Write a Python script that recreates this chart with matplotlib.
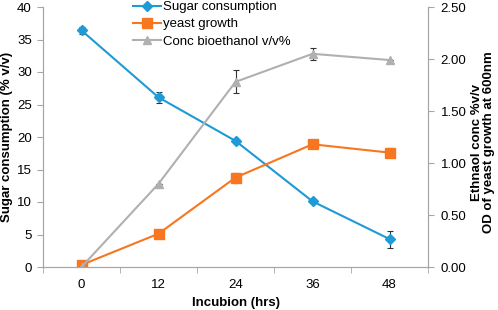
import matplotlib.pyplot as plt
from matplotlib.lines import Line2D
import numpy as np

plt.rcParams['font.family'] = ['Liberation Sans', 'DejaVu Sans']

hours = ['0', '12', '24', '36', '48']
sugar = [36.4, 26.1, 19.4, 10.1, 4.3]
sugar_err = [0.6, 0.8, 0.3, 0.3, 1.3]
yeast = [0.02, 0.32, 0.86, 1.18, 1.10]
yeast_err = [0.0, 0.0, 0.04, 0.02, 0.04]
ethanol = [0.0, 0.80, 1.78, 2.05, 1.99]
ethanol_err = [0.0, 0.0, 0.11, 0.06, 0.0]

blue = '#1e9ad6'
orange = '#f7761f'
gray = '#b0b0b0'
axcol = '#a6a6a6'
fs = 9.5

fig = plt.figure(figsize=(4.98, 3.10), dpi=100)
ax = fig.add_axes([43 / 498, (310 - 267) / 310, (428 - 43) / 498, 260 / 310])
ax2 = ax.twinx()
x = np.arange(len(hours))

ebkw = dict(ecolor='#333333', elinewidth=0.8, capsize=2.5, capthick=0.8)
ax.errorbar(x, sugar, yerr=sugar_err, color=blue, marker='D', ms=5, lw=1.5, zorder=3, **ebkw)
ax2.errorbar(x, yeast, yerr=yeast_err, color=orange, marker='s', ms=7, lw=1.5, **ebkw)
ax2.errorbar(x, ethanol, yerr=ethanol_err, color=gray, marker='^', ms=6, lw=1.5, **ebkw)

ax.set_xlim(-0.5, 4.5)
ax.set_ylim(0, 40)
ax2.set_ylim(0, 2.5)
ax.set_xticks(x)
ax.set_xticklabels(hours)
ax.set_xticks(np.arange(-0.5, 5, 1), minor=True)
ax.tick_params(axis='x', which='major', length=0, labelsize=fs, pad=9)
ax.tick_params(axis='x', which='minor', length=4, color=axcol)
ax.set_yticks(np.arange(0, 41, 5))
ax.tick_params(axis='y', length=4, color=axcol, labelsize=fs, pad=4)
ax2.set_yticks(np.arange(0, 2.51, 0.5))
ax2.set_yticklabels(['%.2f' % v for v in np.arange(0, 2.51, 0.5)])
ax2.tick_params(axis='y', length=4, color=axcol, labelsize=fs, pad=5)

for a in (ax, ax2):
    a.spines['top'].set_visible(False)
    for s in ('left', 'right', 'bottom'):
        a.spines[s].set_color(axcol)

ax.set_xlabel('Incubion (hrs)', fontweight='bold', fontsize=fs, labelpad=4)
ax.set_ylabel('Sugar consumption (% v/v)', fontweight='bold', fontsize=fs, labelpad=3)
ax2.set_ylabel('Ethnaol conc %v/v\nOD of yeast growth at 600nm', fontweight='bold',
               fontsize=fs, labelpad=3, linespacing=1.1)
ax2.yaxis.label.set_y(0.48)

handles = [Line2D([], [], color=blue, marker='D', ms=5, lw=1.5),
           Line2D([], [], color=orange, marker='s', ms=7, lw=1.5),
           Line2D([], [], color=gray, marker='^', ms=6, lw=1.5)]
fig.legend(handles, ['Sugar consumption', 'yeast growth', 'Conc bioethanol v/v%'],
           loc='upper left', bbox_to_anchor=(133 / 498, 1 - 1 / 310), frameon=False,
           fontsize=fs, handlelength=2.1, handletextpad=0.15, labelspacing=0.38,
           borderaxespad=0, borderpad=0)

fig.savefig('out.png', dpi=100)
